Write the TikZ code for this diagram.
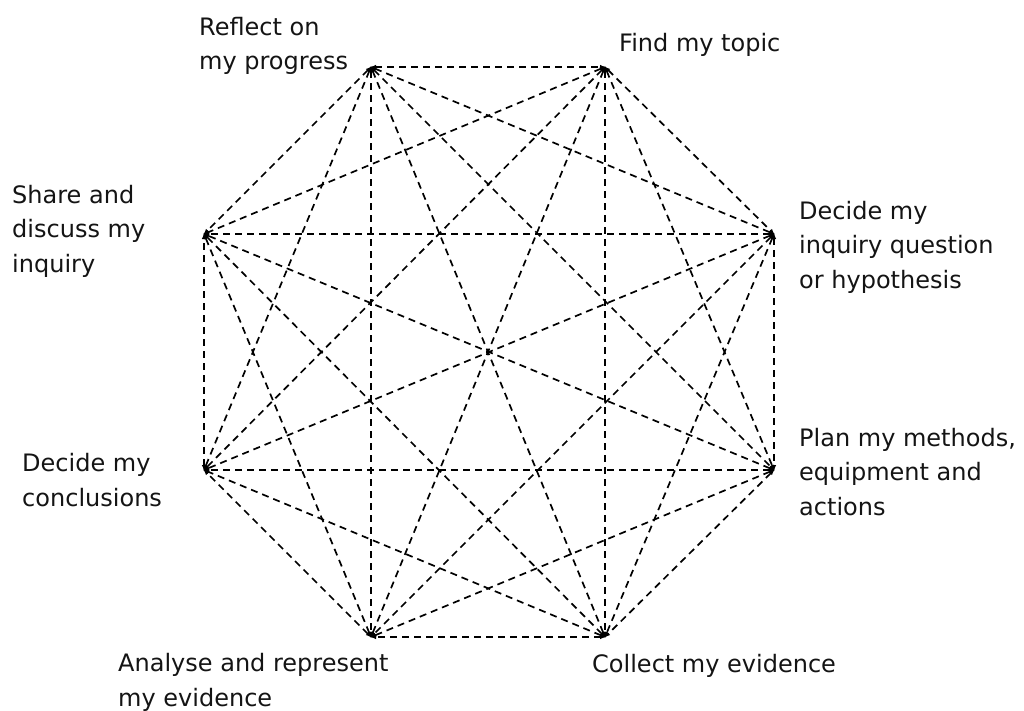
\documentclass[tikz,border=0pt]{standalone}
\usepackage{fontspec}
\setmainfont{DejaVu Sans}
\usetikzlibrary{arrows.meta}
\begin{document}
\begin{tikzpicture}[x=1pt,y=-1pt,
  link/.style={line width=1.7pt, dash pattern=on 7pt off 5pt,
    {Latex[length=6pt,width=4.5pt]}-{Latex[length=6pt,width=4.5pt]}, shorten <=-1pt, shorten >=-1pt},
  lab/.style={anchor=base west, inner sep=0pt, align=left,
    font=\fontsize{24}{34.5}\selectfont, text=black!92}]
\useasboundingbox (0,0) rectangle (1024,711);
% octagon vertices
\coordinate (v1) at (371,67);
\coordinate (v2) at (605,67);
\coordinate (v3) at (774,234);
\coordinate (v4) at (774,470);
\coordinate (v5) at (605,637);
\coordinate (v6) at (371,637);
\coordinate (v7) at (204,470);
\coordinate (v8) at (204,234);
% every stage joined to every other stage
\foreach \i in {1,...,8}{
  \foreach \j in {1,...,8}{
    \ifnum\i<\j
      \draw[link] (v\i) -- (v\j);
    \fi
  }
}
% stage labels (placed by the baseline of their last line)
\node[lab] (t1) at (199,70) {Reflect on\\my progress};
\node[lab] (t2) at (619,52) {Find my topic};
\node[lab] (t3) at (799,288) {Decide my\\inquiry question\\or hypothesis};
\node[lab] (t4) at (799,515) {Plan my methods,\\equipment and\\actions};
\node[lab] (t5) at (592,672) {Collect my evidence};
\node[lab] (t6) at (118,706) {Analyse and represent\\my evidence};
\node[lab] (t7) at (22,506) {Decide my\\conclusions};
\node[lab] (t8) at (12,272) {Share and\\discuss my\\inquiry};
\end{tikzpicture}
\end{document}
